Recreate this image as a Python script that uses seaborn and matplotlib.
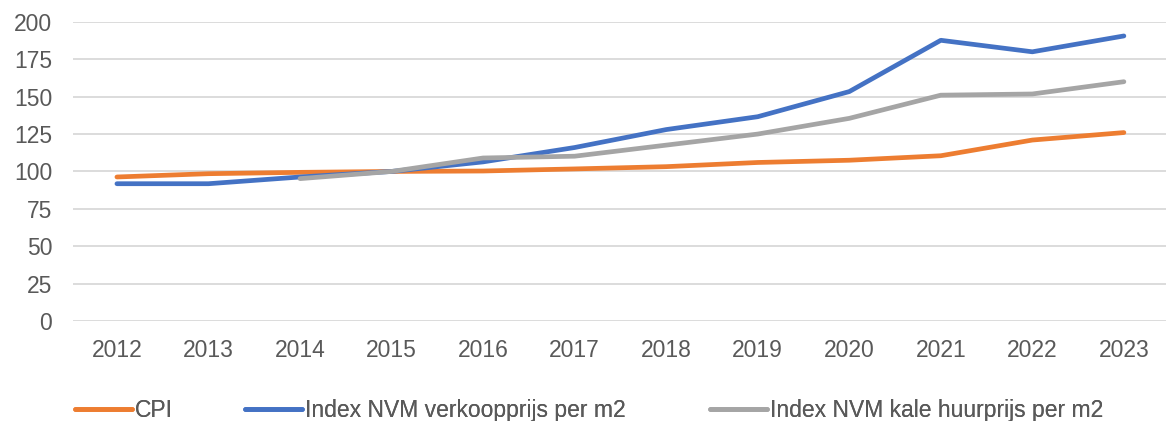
import numpy as np
import pandas as pd
import matplotlib.pyplot as plt
from matplotlib.lines import Line2D
import seaborn as sns

years = list(range(2012, 2024))
cpi = [96.3, 98.5, 99.4, 100.0, 100.3, 101.7, 103.2, 106.0, 107.5, 110.5, 121.0, 126.0]
nvm_koop = [91.8, 91.8, 96.3, 100.0, 106.4, 116.0, 128.0, 136.6, 153.4, 187.7, 180.0, 190.6]
nvm_huur = [np.nan, np.nan, 95.2, 100.0, 109.0, 110.2, 117.6, 125.0, 135.5, 151.0, 151.8, 160.0]

series_names = ["CPI", "Index NVM verkoopprijs per m2", "Index NVM kale huurprijs per m2"]
colors = ["#ED7D31", "#4472C4", "#A5A5A5"]

df = pd.DataFrame({
    "jaar": years * 3,
    "waarde": cpi + nvm_koop + nvm_huur,
    "reeks": [series_names[0]] * 12 + [series_names[1]] * 12 + [series_names[2]] * 12,
})

sns.set_style("white")
plt.rcParams["font.family"] = ["Liberation Sans", "DejaVu Sans"]

fig = plt.figure(figsize=(11.66, 4.21), dpi=100)
ax = fig.add_axes([0.0626, 0.2375, 0.9374, 0.7105])

sns.lineplot(data=df, x="jaar", y="waarde", hue="reeks", palette=colors,
             hue_order=series_names, linewidth=3.4, ax=ax, legend=False)
for line in ax.lines:
    line.set_solid_capstyle("round")

ax.set_xlim(2011.52, 2023.46)
ax.set_ylim(0, 200)
ax.set_xticks(years)
ax.set_yticks(range(0, 201, 25))
ax.tick_params(axis="both", length=0, labelsize=16.5, colors="#595959")
ax.tick_params(axis="x", pad=13)
ax.tick_params(axis="y", pad=15)
ax.grid(axis="y", color="#D9D9D9", linewidth=1.3)
ax.set_axisbelow(True)
for s in ax.spines.values():
    s.set_visible(False)
ax.set_xlabel("")
ax.set_ylabel("")

# legend entries placed one by one (Excel spacing is uneven)
legend_x = [75, 245, 710]
for name, col, x in zip(series_names, colors, legend_x):
    h = Line2D([], [], color=col, linewidth=3.4, solid_capstyle="round")
    leg = fig.legend([h], [name], loc="center left", bbox_to_anchor=(x / 1166, 0.026),
                     frameon=False, fontsize=16.5, handlelength=2.5, handletextpad=0.12,
                     borderpad=0, borderaxespad=0, labelcolor="#595959")
    fig.add_artist(leg)

fig.savefig("out.png", dpi=100)
